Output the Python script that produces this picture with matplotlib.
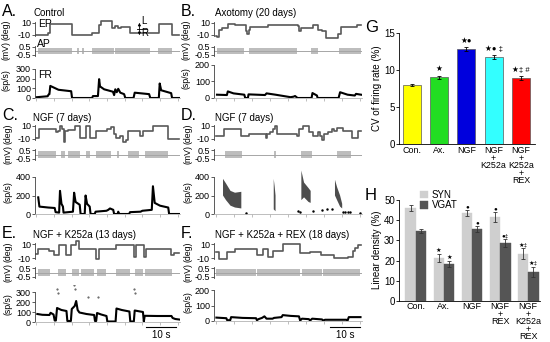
import numpy as np
import matplotlib
matplotlib.use("Agg")
import matplotlib.pyplot as plt

plt.rcParams['font.family'] = ['Liberation Sans', 'DejaVu Sans']
plt.rcParams['axes.unicode_minus'] = False

# ---------------- trace data (time s, value) ----------------
# eye position steps (deg)
ep_A = [(0, -10), (3.9, -7), (4.7, 9), (8, 8), (12.0, -10), (19.0, -6), (21.2, 7), (22.0, 14), (25.6, 1),
        (26.8, 5), (27.6, 1), (28.6, 3), (31.8, -7), (41.6, 8), (46.0, -10), (48.5, -10)]
ep_B = [(0, -12), (0.6, -14), (1.3, -1), (2.0, 2), (4.0, 8), (6.5, 7), (9.5, 6), (10.0, -3), (10.4, -8),
        (11.0, -2), (11.6, 4), (17.5, 6), (27.5, 5), (27.9, -3), (28.4, 2), (32.0, 1), (32.4, 7), (34.0, -2),
        (35.5, -4), (36.8, -15), (40.4, -15), (40.9, -8), (41.8, 3), (47.0, 7), (48.5, 6)]
ep_C = [(0, -8), (0.8, 5), (6.8, 0), (7.4, 3), (8.0, 10), (8.6, 5), (9.2, -15), (9.8, 2), (10.6, 4), (13.0, 10),
        (14.8, -8), (17.0, 10), (18.2, -8), (20.2, 3), (24, 5), (25.5, 8), (26.2, -2), (27.2, -8), (28.5, -5),
        (29.3, -15), (30.5, -12), (31.2, 3), (35.2, -5), (36.3, 2), (39.7, 10), (44.8, -10), (48.5, -10)]
ep_D = [(0, -5), (2.8, 5), (8.5, -5), (11.0, -2), (16.8, -8), (17.3, -3), (18.2, 0), (19.2, 5), (19.8, 10),
        (20.5, -3), (27.2, -5), (27.8, 5), (29.0, 10), (31.0, 0), (32.4, -5), (34.2, 0), (34.8, -5), (35.4, -12),
        (36.2, -3), (37.5, 0), (38.8, 5), (39.5, 3), (40.5, 7), (42.6, 2), (45.6, -8), (47.4, 2), (48.5, 2)]
ep_E = [(0, -4), (0.5, 3), (4.4, 0), (6.1, -5), (7.5, 8), (10.2, -5), (11.9, 8), (13.6, 15), (14.6, 3),
        (20.4, -12), (21.4, 3), (27.2, 8), (33.0, -8), (34.0, 8), (36.4, -8), (37.1, 3), (45.9, -6), (46.9, -3),
        (48.5, -3)]
ep_F = [(0, -2), (1.2, -12), (3.8, -2), (6.6, 3), (13.8, -5), (15.9, 3), (17.5, -8), (19.3, 0), (22.6, 10),
        (28.3, -3), (31.4, -2), (35.2, -5), (39.5, -10), (44.0, -8), (45.7, 0), (46.6, 5), (47.5, 9), (48.5, 9)]

# spiking periods on the AP trace (start, end)
ap_A = [(0.5, 12.0), (13.8, 14.3), (15.6, 16.1), (18.9, 26.2), (26.6, 38.6), (41.4, 46.0)]
ap_B = [(0.5, 9.6), (11.0, 27.2), (31.8, 34.0), (41.3, 48.5)]
ap_C = [(0.6, 6.5), (8.4, 9.6), (10.8, 14.7), (17.0, 18.1), (20.4, 25.5), (27.4, 28.2), (31.2, 34.8), (36.8, 44.8)]
ap_D = [(3.0, 8.7), (19.5, 20.3), (28.5, 32.0), (40.6, 45.0)]
ap_E = [(0.5, 4.6), (7.2, 10.2), (12.0, 14.6), (15.0, 19.7), (20.6, 23.8), (27.2, 31.7), (33.4, 36.2), (37.0, 46.0)]
ap_F = [(0.3, 13.6), (13.9, 28.2), (28.8, 35.6), (35.9, 48.3)]

# firing rate (sp/s)
fr_A = [(0, 8), (3.8, 18), (4.1, 35), (4.4, 40), (4.7, 125), (7.5, 85), (11.8, 70), (12.1, 0), (18.9, 0),
        (19.2, 20), (20.9, 20), (21.3, 195), (21.6, 120), (23, 90), (26.0, 65), (26.4, 30), (26.8, 90),
        (27.3, 60), (27.8, 95), (28.5, 55), (29.8, 40), (30.2, 0), (33.0, 0), (33.4, 55), (38.3, 40),
        (38.7, 0), (41.6, 0), (41.9, 150), (42.4, 80), (45.8, 50), (46.1, 0), (48.5, 0)]
fr_B = [(0.5, 20), (3.8, 18), (4.1, 40), (6, 28), (9.6, 20), (9.9, 0), (10.8, 0), (11.0, 22), (16.5, 18),
        (17.0, 28), (20, 20), (25, 5), (26, 8), (26.5, 12), (27.0, 5), (27.3, 0), (32.0, 0), (32.3, 30),
        (33.8, 15), (34.0, 0), (41.0, 0), (41.5, 35), (44, 20), (46.4, 15), (46.8, 25), (48.5, 20)]
fr_C = [(0.6, 180), (1.0, 80), (4, 70), (6.2, 65), (6.5, 20), (7.7, 15), (8.0, 250), (8.5, 110), (9.0, 80),
        (9.2, 15), (12.4, 25), (12.8, 230), (13.3, 130), (14.7, 100), (15.0, 0), (16.4, 0), (16.7, 200),
        (17.2, 110), (18.1, 80), (18.4, 0), (19.8, 0), (20.1, 25), (23.8, 35), (24.4, 45), (25.0, 60),
        (26.1, 45), (26.4, 0), (27.6, 0), (27.8, 25), (28.1, 0), (31.5, 0), (31.8, 20), (35.4, 25), (36.0, 35),
        (39.2, 45), (39.6, 300), (40.2, 120), (42.0, 90), (44.8, 70), (45.1, 0), (48.5, 0)]
# D: scattered bursts given as (time, lower, upper)
fr_D = [(2.5, 200, 380), (3.5, 150, 330), (5.0, 90, 250), (6.5, 70, 230), (8.6, 60, 240), (8.7, np.nan, np.nan),
        (19.4, 50, 380), (19.7, 40, 300), (20.0, 30, 200), (20.1, np.nan, np.nan),
        (28.6, 150, 470), (29.5, 180, 340), (31.0, 130, 280), (31.7, 120, 250), (31.8, np.nan, np.nan),
        (39.8, 200, 370), (40.5, 150, 290), (41.5, 80, 200), (42.2, 60, 110)]
fr_D_dots = [(10.3, 10), (27.6, 30), (28.0, 20), (32.5, 30), (35.6, 40), (37.0, 55), (38.7, 50),
             (42.6, 25), (43.3, 25), (44.0, 20), (44.7, 25), (48.0, 10)]
fr_E = [(0.3, 80), (2, 72), (4.4, 70), (4.8, 92), (5.8, 75), (6.2, 15), (6.6, 15), (7.0, 140), (8.5, 120),
        (10.2, 110), (10.5, 10), (11.7, 10), (12.0, 130), (13.0, 160), (13.5, 210), (14.0, 120), (14.6, 95),
        (17, 80), (19.6, 70), (19.9, 10), (20.3, 10), (20.6, 90), (22, 75), (23.8, 60), (24.1, 5), (26.9, 5),
        (27.2, 135), (29, 120), (31.6, 105), (31.9, 5), (33.1, 5), (33.4, 115), (36.2, 100), (36.5, 5),
        (36.8, 62), (41, 60), (45.9, 60), (46.3, 40), (47.2, 30), (48.5, 25)]
fr_E_dots = [(7.1, 330), (7.2, 290), (12.9, 370), (13.0, 330), (17.5, 250), (21.0, 250), (33.2, 330), (33.4, 290)]
fr_F = [(0.3, 22), (3.6, 18), (3.9, 5), (4.9, 5), (5.2, 25), (9, 20), (13.5, 18), (13.8, 5), (14.3, 12),
        (15.5, 20), (16.3, 30), (17.0, 15), (19.0, 15), (19.5, 20), (22.0, 25), (22.4, 38), (25, 33), (27.8, 30),
        (28.2, 3), (28.8, 15), (31.1, 12), (31.5, 3), (32.2, 15), (35.5, 10), (35.8, 3), (36.5, 8), (43.6, 8),
        (44.0, 3), (44.4, 25), (48.3, 25)]

# ---------------- bar chart data ----------------
g_labels = ["Con.", "Ax.", "NGF", "NGF\n+\nK252a", "NGF\n+\nK252a\n+\nREX"]
g_values = [8.0, 9.0, 12.8, 11.8, 8.9]
g_err = [0.15, 0.25, 0.25, 0.25, 0.3]
g_marks = ["", "\u2605", "\u2605\u25cf", "\u2605\u25cf \u2021", "\u2605\u2021 #"]
g_colors = ["#ffff00", "#22dd22", "#0000dd", "#33ffff", "#ff0000"]

h_labels = ["Con.", "Ax.", "NGF", "NGF\n+\nREX", "NGF\n+\nK252a\n+\nREX"]
h_syn = [46, 21.5, 43.5, 41.5, 23.5]
h_vgat = [34.5, 18.5, 35.5, 28.5, 14.5]
h_syn_err = [1.5, 2.0, 1.5, 2.5, 2.5]
h_vgat_err = [1.0, 1.5, 1.5, 2.0, 2.5]
h_syn_marks = ["", "\u2605", "\u25cf", "\u25cf", "\u2605\u2021"]
h_vgat_marks = ["", "\u2605", "\u25cf", "\u25cf\u2021", "\u2605\u2021"]

W, H = 550, 342
fig = plt.figure(figsize=(5.5, 3.42), dpi=100)


def ftext(x, y, s, **kw):
    # text placed in pixel coords (from top-left)
    return fig.text(x / W, 1 - y / H, s, **kw)


def add_ax(x0, x1, ya, va, yb, vb, lo, hi):
    # make axes so that value va sits at pixel row ya and vb at yb
    s = (yb - ya) / float(va - vb)
    ytop = ya - (hi - va) * s
    ybot = yb + (vb - lo) * s
    ax = fig.add_axes([x0 / W, 1 - ybot / H, (x1 - x0) / W, (ybot - ytop) / H])
    ax.set_ylim(lo, hi)
    ax.patch.set_alpha(0)
    for sp in ['top', 'right', 'bottom']:
        ax.spines[sp].set_visible(False)
    ax.spines['left'].set_linewidth(0.6)
    ax.spines['left'].set_color('0.25')
    ax.tick_params(axis='y', length=2, width=0.6, pad=1, labelsize=6.5, color='0.25')
    return ax


def trace_panel(x0, x1, ep_rows, ap_rows, fr_rows, fr_lim, fr_ticks, ep, ap, fr, ylab_x):
    ax1 = add_ax(x0, x1, ep_rows[0], 10, ep_rows[1], -10, -18, 16)
    t, v = zip(*ep)
    ax1.plot(t, v, drawstyle='steps-post', color='0.35', lw=1.2)
    ax1.set_yticks([-10, 10])
    ax1.set_yticklabels(['-10', '10'])
    ax1.spines['left'].set_bounds(-12, 12)
    ax1.set_xticks([])
    ax1.set_xlim(-0.5, 48.8)

    ax2 = add_ax(x0, x1, ap_rows[0], 0.5, ap_rows[1], -0.5, -0.9, 0.8)
    ax2.axhline(0, color='0.65', lw=0.7)
    ax2.broken_barh([(s, e - s) for s, e in ap], (-0.36, 0.72), color='0.74', lw=0)
    ax2.set_yticks([-0.5, 0.5])
    ax2.set_yticklabels(['-0.5', '0.5'])
    ax2.spines['left'].set_bounds(-0.65, 0.65)
    ax2.set_xticks([])
    ax2.set_xlim(-0.5, 48.8)

    ax3 = add_ax(x0, x1, fr_rows[0], fr_ticks[-1], fr_rows[1], 0, 0, fr_lim)
    ax3.set_yticks(fr_ticks)
    ax3.spines['left'].set_bounds(0, fr_ticks[-1])
    ax3.spines['bottom'].set_visible(True)
    ax3.spines['bottom'].set_color('0.7')
    ax3.spines['bottom'].set_linewidth(0.6)
    ax3.set_xticks(np.arange(0, 49, 6))
    ax3.tick_params(axis='x', length=2, width=0.6, color='0.7', labelbottom=False)
    ax3.set_xlim(-0.5, 48.8)
    if fr is not None:
        t, v = zip(*fr)
        ax3.plot(t, v, color='k', lw=1.5, solid_joinstyle='round')

    ftext(ylab_x, (ep_rows[0] + ep_rows[1]) / 2 + 1, '(deg)', rotation=90, fontsize=6.3, ha='center', va='center')
    ftext(ylab_x, (ap_rows[0] + ap_rows[1]) / 2, '(mV)', rotation=90, fontsize=6.3, ha='center', va='center')
    ftext(ylab_x, (fr_rows[0] + fr_rows[1]) / 2 - 3, '(sp/s)', rotation=90, fontsize=6.3, ha='center', va='center')
    return ax1, ax2, ax3


LX0, LX1 = 35, 180
RX0, RX1 = 214, 362

# A
axA = trace_panel(LX0, LX1, (23, 35), (47, 55), (69, 98), 330, [0, 100, 200, 300], ep_A, ap_A, fr_A, 6)
# B
axB = trace_panel(RX0, RX1, (23, 35), (47, 55), (65, 98), 215, [0, 100, 200], ep_B, ap_B, fr_B, 186)
# C
axC = trace_panel(LX0, LX1, (126, 139), (150, 159), (177, 214), 420, [0, 200, 400], ep_C, ap_C, fr_C, 8)
# D
axD = trace_panel(RX0, RX1, (126, 139), (150, 159), (177, 214), 480, [0, 200, 400], ep_D, ap_D, None, 188)
td, lo, hi = zip(*fr_D)
axD[2].fill_between(td, lo, hi, color='0.3', lw=0)
td, vd = zip(*fr_D_dots)
axD[2].plot(td, vd, 'k.', ms=1.5)
# E
axE = trace_panel(LX0, LX1, (244, 258), (268, 277), (292, 322), 370, [0, 100, 200, 300], ep_E, ap_E, fr_E, 8)
te, ve = zip(*fr_E_dots)
axE[2].plot(te, ve, '.', color='0.3', ms=1)
# F
axF = trace_panel(RX0, RX1, (244, 258), (268, 277), (290, 321), 210, [0, 100, 200], ep_F, ap_F, fr_F, 188)

# A inner labels
ftext(38, 24, 'EP', fontsize=7.5, va='center')
ftext(37, 44, 'AP', fontsize=7.5, va='center')
ftext(38, 75, 'FR', fontsize=7.5, va='center')
axA[0].annotate('', xy=(35.0, 15), xytext=(35.0, -15),
                arrowprops=dict(arrowstyle='<|-|>', color='k', lw=0.6, mutation_scale=4))
axA[0].plot([34.3, 37.5], [0, 0], color='k', lw=0.6)
ftext(141, 21, 'L', fontsize=7, va='center')
ftext(141, 33, 'R', fontsize=7, va='center')

# panel letters and titles
for letter, lx, ly, title, tx in [('A.', 2, 11, 'Control', 33), ('B.', 181, 11, 'Axotomy (20 days)', 215),
                                   ('C.', 2, 116, 'NGF (7 days)', 33), ('D.', 181, 116, 'NGF (7 days)', 215),
                                   ('E.', 2, 233, 'NGF + K252a (13 days)', 33),
                                   ('F.', 181, 233, 'NGF + K252a + REX (18 days)', 215)]:
    ftext(lx, ly, letter, fontsize=11.5, va='center')
    ftext(tx, ly + 2, title, fontsize=7, va='center')

# 10 s scale bars
for x0 in (146, 330):
    fig.add_artist(plt.Line2D([x0 / W, (x0 + 29.5) / W], [1 - 327 / H, 1 - 327 / H], color='k', lw=0.8))
    ftext(x0 + 15, 335.5, '10 s', fontsize=7, ha='center', va='center')

# ---------------- G ----------------
axG = fig.add_axes([399 / W, 1 - 144 / H, 136 / W, 111 / H])
xg = np.arange(len(g_values))
axG.bar(xg, g_values, width=0.66, color=g_colors, edgecolor='0.35', lw=0.5, yerr=g_err,
        error_kw=dict(ecolor='k', elinewidth=0.6, capsize=1.5, capthick=0.6))
for i in range(len(g_values)):
    axG.text(xg[i], g_values[i] + g_err[i] + 0.3, g_marks[i], ha='center', va='bottom', fontsize=5.5)
axG.set_xlim(-0.48, 4.52)
axG.set_ylim(0, 15)
axG.set_yticks([0, 5, 10, 15])
axG.set_xticks(xg)
axG.set_xticklabels(g_labels, fontsize=6.4, linespacing=0.8)
axG.tick_params(axis='x', length=0, pad=1.5)
axG.tick_params(axis='y', length=2, width=0.6, labelsize=7, pad=1)
for sp in ['top', 'right']:
    axG.spines[sp].set_visible(False)
for sp in ['left', 'bottom']:
    axG.spines[sp].set_linewidth(0.6)
ftext(377, 88, 'CV of firing rate (%)', rotation=90, fontsize=7, ha='center', va='center')
ftext(365, 28, 'G', fontsize=12, va='center')

# ---------------- H ----------------
axH = fig.add_axes([399 / W, 1 - 301 / H, 141 / W, 101 / H])
xh = np.arange(len(h_syn))
bw = 0.37
axH.bar(xh - bw / 2, h_syn, width=bw, color='#cfcfcf', edgecolor='#cfcfcf', lw=0.3, yerr=h_syn_err,
        error_kw=dict(ecolor='0.2', elinewidth=0.6, capsize=1.2, capthick=0.6), label='SYN')
axH.bar(xh + bw / 2, h_vgat, width=bw, color='#555555', edgecolor='#555555', lw=0.3, yerr=h_vgat_err,
        error_kw=dict(ecolor='0.2', elinewidth=0.6, capsize=1.2, capthick=0.6), label='VGAT')
for i in range(len(h_syn)):
    axH.text(xh[i] - bw / 2, h_syn[i] + h_syn_err[i] + 0.5, h_syn_marks[i], ha='center', va='bottom', fontsize=4.5)
    axH.text(xh[i] + bw / 2, h_vgat[i] + h_vgat_err[i] + 0.5, h_vgat_marks[i], ha='center', va='bottom', fontsize=4.5)
axH.set_xlim(-0.6, 4.42)
axH.set_ylim(0, 50)
axH.set_yticks([0, 10, 20, 30, 40, 50])
axH.set_xticks(xh)
axH.set_xticklabels(h_labels, fontsize=6.5, linespacing=0.78)
axH.tick_params(axis='x', length=0, pad=1)
axH.tick_params(axis='y', length=2, width=0.6, labelsize=7, pad=1)
for sp in ['top', 'right']:
    axH.spines[sp].set_visible(False)
for sp in ['left', 'bottom']:
    axH.spines[sp].set_linewidth(0.6)
axH.legend(loc='upper left', bbox_to_anchor=(0.15, 1.1), frameon=False, fontsize=7, handlelength=0.8,
           handleheight=0.8, labelspacing=0.05, handletextpad=0.4, borderaxespad=0, borderpad=0)
ftext(377, 250, 'Linear density (%)', rotation=90, fontsize=7, ha='center', va='center')
ftext(365, 196, 'H', fontsize=12, va='center')

fig.savefig('out.png', dpi=100)
